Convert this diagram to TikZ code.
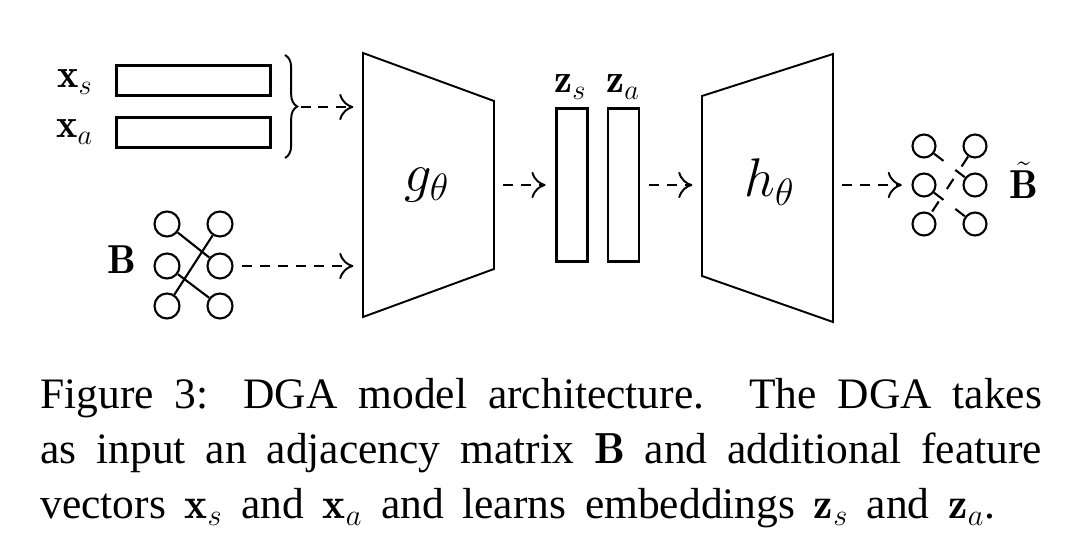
\RequirePackage{fix-cm}
\documentclass[tikz,border=0pt]{standalone}
\usepackage{amsmath}
\usepackage{fontspec}
\usepackage{tikz}
\usetikzlibrary{arrows.meta, positioning, decorations.pathreplacing}
\newfontfamily\capfont{Liberation Serif}
\tikzset{
	vec/.style={draw, line width=1.5pt, inner sep=0pt},
	vert/.style={circle, draw, line width=1.2pt, minimum size=0.5cm, inner sep=0pt},
	rvert/.style={vert, minimum size=0.46cm},
	link/.style={line width=1.2pt},
	rlink/.style={line width=1.2pt, dash pattern=on 6.8pt off 8.5pt},
	trap/.style={line width=1.1pt, line join=miter},
	flow/.style={-{To[length=8pt,width=15pt]}, line width=1.1pt,
		dash pattern=on 5.7pt off 4.5pt, shorten <=5pt, shorten >=5.5pt},
	lbl/.style={inner sep=0pt, anchor=base west, font=\fontsize{23}{27}\selectfont},
	big/.style={inner sep=0pt, anchor=base west, font=\fontsize{31}{36}\selectfont},
	captext/.style={inner sep=0pt, anchor=north west, text width=20.04cm, align=justify,
		font=\capfont\fontsize{24.75}{31.3}\selectfont},
}

\begin{document}
\begin{tikzpicture}[x=0.02cm, y=-0.02cm]
	\useasboundingbox (0,0) rectangle (1080,550);
	% feature vectors
	\node[vec, minimum width=3.08cm, minimum height=0.6cm] (xs) at (193.5,80.5) {};
	\node[vec, minimum width=3.08cm, minimum height=0.6cm] (xa) at (193.5,132.5) {};
	\node[lbl] (xsl) at (57,88) {$\mathbf{x}_s$};
	\node[lbl] (xal) at (56,138) {$\mathbf{x}_a$};
	\coordinate (bt) at (285,55);
	\coordinate (bb) at (285,158);
	\coordinate (brc) at (297,107);
	\draw[line width=1.1pt, decorate, decoration={brace, amplitude=7pt}] (bt) -- (bb);
	% input graph
	\node[lbl] (bl) at (107,274) {$\mathbf{B}$};
	\node[vert] (b11) at (167,224) {};
	\node[vert] (b12) at (220,224) {};
	\node[vert] (b21) at (167,266) {};
	\node[vert] (b22) at (220,266) {};
	\node[vert] (b31) at (167,306) {};
	\node[vert] (b32) at (220,306) {};
	\draw[link] (b11) -- (b22);
	\draw[link] (b12) -- (b31);
	\draw[link] (b21) -- (b32);
	% encoder
	\coordinate (g1) at (363,53);
	\coordinate (g2) at (494,101);
	\coordinate (g3) at (494,269);
	\coordinate (g4) at (363,317);
	\draw[trap] (g1) -- (g2) -- (g3) -- (g4) -- cycle;
	\node[big] (gl) at (404,192) {$g_\theta$};
	\coordinate (gin1) at (363,107);
	\coordinate (gin2) at (363,266);
	\coordinate (gout) at (494,185);
	% embeddings
	\node[vec, minimum width=0.62cm, minimum height=3.06cm] (zs) at (572,185) {};
	\node[vec, minimum width=0.62cm, minimum height=3.06cm] (za) at (623.5,185) {};
	\node[lbl] (zsl) at (554,93) {$\mathbf{z}_s$};
	\node[lbl] (zal) at (606,93) {$\mathbf{z}_a$};
	% decoder
	\coordinate (h1) at (702,96);
	\coordinate (h2) at (833,54);
	\coordinate (h3) at (833,322);
	\coordinate (h4) at (702,276);
	\draw[trap] (h1) -- (h2) -- (h3) -- (h4) -- cycle;
	\node[big] (hl) at (744,197) {$h_\theta$};
	\coordinate (hin) at (702,185);
	\coordinate (hout) at (833,185);
	% reconstructed graph
	\node[rvert] (r11) at (924,146) {};
	\node[rvert] (r12) at (975,146) {};
	\node[rvert] (r21) at (924,185) {};
	\node[rvert] (r22) at (975,185) {};
	\node[rvert] (r31) at (924,224) {};
	\node[rvert] (r32) at (975,224) {};
	\draw[rlink] (r11) -- (r22);
	\draw[rlink] (r12) -- (r31);
	\draw[rlink] (r21) -- (r32);
	\node[lbl] (rl) at (1009,199) {$\tilde{\mathbf{B}}$};
	% flows
	\draw[flow, shorten <=2pt] (brc) -- (gin1);
	\draw[flow] (b22) -- (gin2);
	\draw[flow] (gout) -- (zs);
	\draw[flow] (za) -- (hin);
	\draw[flow] (hout) -- (r21);
	% caption
	\node[captext] (capt) at (40,378) {Figure 3: DGA model architecture. The DGA takes\linebreak
		as input an adjacency matrix $\mathbf{B}$ and additional feature\linebreak
		vectors $\mathbf{x}_s$ and $\mathbf{x}_a$ and learns embeddings $\mathbf{z}_s$ and $\mathbf{z}_a$.\hspace*{0.94cm}\linebreak};
\end{tikzpicture}
\end{document}
